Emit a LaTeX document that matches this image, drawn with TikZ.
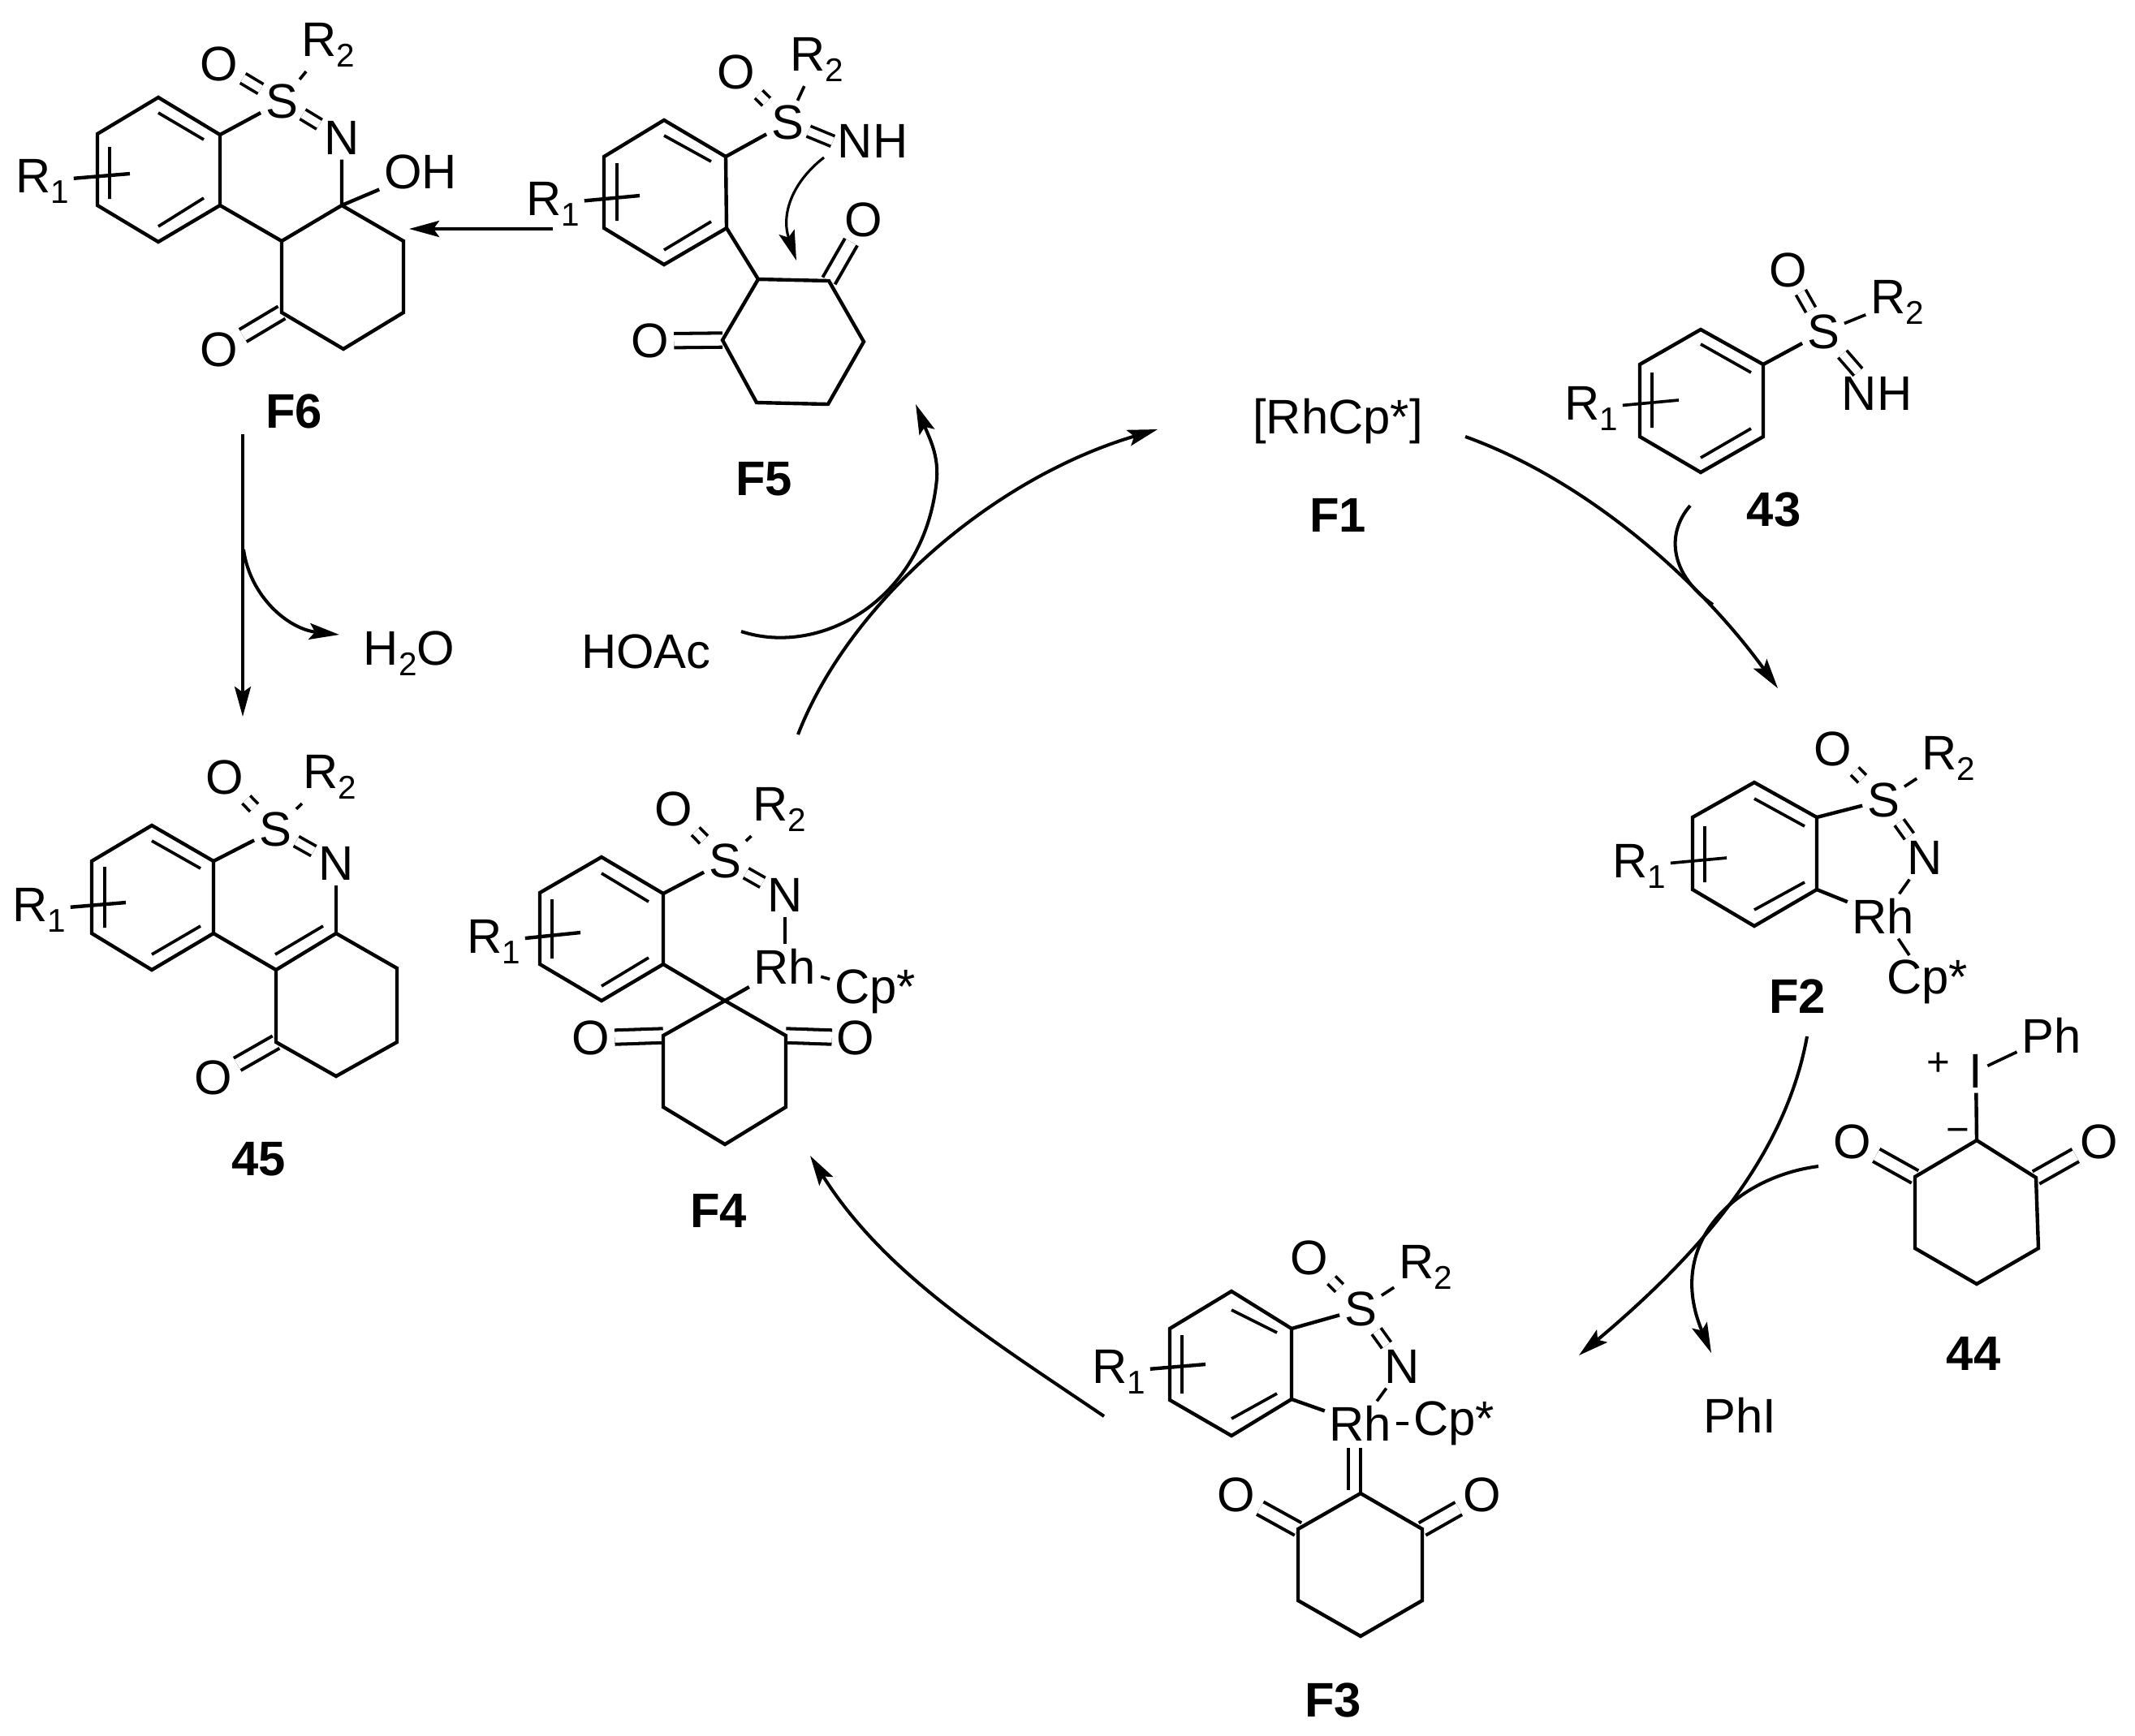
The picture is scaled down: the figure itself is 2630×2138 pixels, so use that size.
\documentclass[tikz,border=0pt]{standalone}
\usepackage{fontspec}
\setmainfont{Liberation Sans}
\usetikzlibrary{arrows.meta}
\newcommand{\lowidx}[1]{\raisebox{-3.7pt}{\fontsize{11.5}{13}\selectfont #1}}
\tikzset{
  atom/.style={font=\fontsize{17}{20}\selectfont, inner sep=1.5pt},
  tag/.style={font=\fontsize{17}{20}\selectfont\bfseries, inner sep=1pt},
  charge/.style={font=\fontsize{14}{16}\selectfont, inner sep=0pt},
  bond/.style={line width=1.25pt, line join=miter},
  thinbond/.style={line width=1.05pt},
  dbl/.style={line width=1.05pt, double, double distance=2.8pt},
  dblco/.style={line width=1.15pt, double, double distance=3.8pt},
  rxn/.style={line width=1.15pt, -{Stealth[length=0.37cm, width=0.2cm, inset=0.07cm]}}
}
\begin{document}
\begin{tikzpicture}[x=0.01cm, y=-0.01cm]
\useasboundingbox (0,0) rectangle (2630,2138);

\node[atom] (f6S) at (347,125) {S};
\node[atom] (f6O) at (270,79) {O};
\node[atom] (f6R) at (404,55) {R\lowidx{2}};
\node[atom] (f6N) at (421,170) {N};
\node[atom] (f6OH) at (518,212) {OH};
\node[atom] (f6Rone) at (52,223) {R\lowidx{1}};
\node[atom] (f6Ok) at (270,431) {O};
\node[tag] (f6) at (362,507) {F6};
\draw[dbl] (f6S) -- (f6O);
\draw[dbl] (f6S) -- (f6N);
\draw[thinbond] (f6S) -- (f6R);
\draw[dblco] (347,385) -- (f6Ok);
\draw[bond] (195,120) -- (271,166) -- (271,253) -- (195,298) -- (120,253) -- (120,165) -- cycle;
\draw[bond] (271,166) -- (f6S);
\draw[bond] (271,253) -- (347,297) -- (421,253) -- (497,297) -- (497,385) -- (423,430) -- (347,385) -- (347,297);
\draw[bond] (f6N) -- (421,253) -- (f6OH);
\draw[bond] (f6Rone) -- (160,214);
\draw[thinbond] (135,181) -- (135,245) (195,139) -- (251,172) (195,279) -- (251,244);

\node[atom] (f5S) at (970,151) {S};
\node[atom] (f5O) at (907,89) {O};
\node[atom] (f5R) at (1006,73) {R\lowidx{2}};
\node[atom] (f5NH) at (1075,174) {NH};
\node[atom] (f5Rone) at (681,251) {R\lowidx{1}};
\node[atom] (f5Ot) at (1064,271) {O};
\node[atom] (f5Ol) at (801,420) {O};
\node[tag] (f5) at (941,590) {F5};
\draw[dbl] (f5S) -- (f5O);
\draw[dbl] (f5S) -- (f5NH.west);
\draw[thinbond] (f5S) -- (f5R);
\draw[dblco] (1021,346) -- (f5Ot);
\draw[dblco] (890,419) -- (f5Ol);
\draw[bond] (818,148) -- (894,193) -- (895,281) -- (818,326) -- (744,281) -- (744,193) -- cycle;
\draw[bond] (894,193) -- (f5S);
\draw[bond] (895,281) -- (934,344);
\draw[bond] (934,344) -- (1021,346) -- (1064,421) -- (1020,498) -- (932,496) -- (890,419) -- cycle;
\draw[bond] (f5Rone) -- (788,241);
\draw[thinbond] (760,201) -- (760,272) (818,167) -- (876,199) (818,308) -- (876,273);

\node[atom] (f1) at (1648,519) {[RhCp*]};
\node[tag] (f1tag) at (1648,635) {F1};

\node[atom] (n43S) at (2246,409) {S};
\node[atom] (n43O) at (2203,333) {O};
\node[atom] (n43R) at (2337,372) {R\lowidx{2}};
\node[atom] (n43NH) at (2312,485) {NH};
\node[atom] (n43Rone) at (1960,503) {R\lowidx{1}};
\node[tag] (n43) at (2185,628) {43};
\draw[dbl] (n43S) -- (n43O);
\draw[dbl] (n43S) -- (n43NH);
\draw[thinbond] (n43S) -- (n43R);
\draw[bond] (2095,406) -- (2172,449) -- (2172,538) -- (2095,582) -- (2020,538) -- (2020,449) -- cycle;
\draw[bond] (2172,449) -- (n43S);
\draw[thinbond] (n43Rone) -- (2068,493);
\draw[thinbond] (2035,459) -- (2035,527) (2095,424) -- (2157,459) (2095,564) -- (2157,528);

\node[atom] (f2S) at (2320,986) {S};
\node[atom] (f2O) at (2258,923) {O};
\node[atom] (f2R) at (2400,934) {R\lowidx{2}};
\node[atom] (f2N) at (2371,1057) {N};
\node[atom] (f2Rh) at (2320,1129) {Rh};
\node[atom] (f2Cp) at (2374,1210) {Cp*};
\node[atom] (f2Rone) at (2019,1067) {R\lowidx{1}};
\node[tag] (f2) at (2214,1228) {F2};
\draw[dbl] (f2S) -- (f2O);
\draw[dbl] (f2S) -- (f2N);
\draw[thinbond] (f2S) -- (f2R);
\draw[bond] (2161,964) -- (2238,1007) -- (2238,1096) -- (2161,1141) -- (2085,1096) -- (2085,1007) -- cycle;
\draw[bond] (2238,1007) -- (f2S);
\draw[bond] (2238,1096) -- (f2Rh);
\draw[thinbond] (f2N) -- (f2Rh);
\draw[thinbond] (f2Rh) -- (f2Cp);
\draw[thinbond] (f2Rone) -- (2127,1057);
\draw[thinbond] (2100,1018) -- (2100,1087) (2161,984) -- (2223,1018) (2161,1121) -- (2223,1087);

\node[atom] (n44I) at (2434,1320) {I};
\node[atom] (n44Ph) at (2527,1276) {Ph};
\node[charge] (n44plus) at (2388,1311) {+};
\node[charge] (n44minus) at (2412,1399) {−};
\node[atom] (n44Ol) at (2282,1407) {O};
\node[atom] (n44Or) at (2586,1407) {O};
\node[tag] (n44) at (2431,1668) {44};
\node[atom] (phi) at (2143,1744) {PhI};
\draw[dblco] (2359,1450) -- (n44Ol);
\draw[dblco] (2508,1451) -- (n44Or);
\draw[bond] (2435,1405) -- (2508,1451) -- (2511,1538) -- (2435,1582) -- (2359,1538) -- (2359,1450) -- cycle;
\draw[bond] (n44I) -- (2435,1405);
\draw[thinbond] (n44I) -- (n44Ph);

\node[atom] (f3S) at (1676,1613) {S};
\node[atom] (f3O) at (1613,1550) {O};
\node[atom] (f3R) at (1756,1561) {R\lowidx{2}};
\node[atom] (f3N) at (1727,1684) {N};
\node[atom] (f3Rh) at (1676,1754) {Rh};
\node[atom] (f3Cp) at (1791,1754) {Cp*};
\node[atom] (f3Rone) at (1378,1690) {R\lowidx{1}};
\node[atom] (f3Ol) at (1523,1842) {O};
\node[atom] (f3Or) at (1826,1842) {O};
\node[tag] (f3) at (1642,2095) {F3};
\draw[dbl] (f3S) -- (f3O);
\draw[dbl] (f3S) -- (f3N);
\draw[thinbond] (f3S) -- (f3R);
\draw[dblco] (1599,1884) -- (f3Ol);
\draw[dblco] (1752,1884) -- (f3Or);
\draw[bond] (1517,1591) -- (1591,1637) -- (1591,1724) -- (1517,1769) -- (1441,1725) -- (1441,1637) -- cycle;
\draw[bond] (1591,1637) -- (f3S);
\draw[bond] (1591,1724) -- (f3Rh);
\draw[thinbond] (f3N) -- (f3Rh);
\draw[thinbond] (f3Rh) -- (f3Cp);
\draw[bond] (1676,1840) -- (1752,1884) -- (1752,1972) -- (1676,2016) -- (1599,1972) -- (1599,1884) -- cycle;
\draw[thinbond] (1676,1784) -- (1676,1840) (1661,1784) -- (1661,1836);
\draw[bond] (f3Rone) -- (1485,1681);
\draw[thinbond] (1456,1645) -- (1456,1717) (1517,1614) -- (1573,1642) (1517,1748) -- (1573,1717);

\node[atom] (f4S) at (893,1061) {S};
\node[atom] (f4O) at (830,997) {O};
\node[atom] (f4R) at (960,997) {R\lowidx{2}};
\node[atom] (f4N) at (967,1103) {N};
\node[atom] (f4Rh) at (967,1191) {Rh};
\node[atom] (f4Cp) at (1078,1222) {Cp*};
\node[atom] (f4Rone) at (608,1160) {R\lowidx{1}};
\node[atom] (f4Ol) at (728,1279) {O};
\node[atom] (f4Or) at (1054,1279) {O};
\node[tag] (f4) at (885,1492) {F4};
\draw[dbl] (f4S) -- (f4O);
\draw[dbl] (f4S) -- (f4N);
\draw[thinbond] (f4S) -- (f4R);
\draw[dblco] (817,1276) -- (f4Ol);
\draw[dblco] (968,1276) -- (f4Or);
\draw[bond] (741,1056) -- (817,1101) -- (817,1188) -- (741,1233) -- (665,1188) -- (665,1100) -- cycle;
\draw[bond] (817,1101) -- (f4S);
\draw[bond] (817,1188) -- (893,1233) -- (968,1276) -- (968,1364) -- (893,1410) -- (817,1364) -- (817,1276) -- (893,1233) -- (f4Rh);
\draw[thinbond] (f4N) -- (f4Rh);
\draw[thinbond] (f4Rh) -- (f4Cp);
\draw[bond] (f4Rone) -- (715,1149);
\draw[thinbond] (680,1108) -- (680,1181) (741,1076) -- (799,1111) (741,1215) -- (799,1180);

\node[atom] (n45S) at (339,1022) {S};
\node[atom] (n45O) at (277,958) {O};
\node[atom] (n45R) at (406,957) {R\lowidx{2}};
\node[atom] (n45N) at (414,1064) {N};
\node[atom] (n45Rone) at (48,1121) {R\lowidx{1}};
\node[atom] (n45Ok) at (263,1328) {O};
\node[tag] (n45) at (319,1428) {45};
\draw[dbl] (n45S) -- (n45O);
\draw[dbl] (n45S) -- (n45N);
\draw[thinbond] (n45S) -- (n45R);
\draw[dblco] (340,1284) -- (n45Ok);
\draw[bond] (187,1017) -- (263,1061) -- (263,1150) -- (187,1195) -- (113,1150) -- (113,1061) -- cycle;
\draw[bond] (263,1061) -- (n45S);
\draw[bond] (263,1150) -- (340,1195) -- (414,1150) -- (489,1193) -- (489,1284) -- (414,1326) -- (340,1284) -- (340,1195);
\draw[bond] (n45N) -- (414,1150);
\draw[bond] (n45Rone) -- (155,1112);
\draw[thinbond] (129,1068) -- (129,1143) (187,1036) -- (247,1070) (187,1176) -- (247,1141) (339,1176) -- (398,1141);

\node[atom] (water) at (504,805) {H\lowidx{2}O};
\node[atom] (hoac) at (796,803) {HOAc};

\coordinate (f5out) at (681,282);
\coordinate (f6in) at (504,282);
\coordinate (f5nuc) at (1015,194);
\coordinate (f5ket) at (981,321);
\coordinate (f6out) at (299,535);
\coordinate (n45in) at (299,883);
\coordinate (wstart) at (300,677);
\coordinate (wend) at (418,782);
\coordinate (f4out) at (983,905);
\coordinate (f1in) at (1426,529);
\coordinate (hstart) at (913,778);
\coordinate (hmid) at (1154,590);
\coordinate (f5in) at (1128,498);
\coordinate (f1out) at (1805,538);
\coordinate (f2in) at (2190,848);
\coordinate (astart) at (2082,623);
\coordinate (aend) at (2110,745);
\coordinate (f2out) at (2226,1277);
\coordinate (f3in) at (1945,1670);
\coordinate (bstart) at (2240,1437);
\coordinate (phiin) at (2108,1667);
\coordinate (f3out) at (1360,1745);
\coordinate (f4in) at (998,1424);

\draw[rxn] (f5out) -- (f6in);
\draw[rxn, line width=0.9pt] (f5nuc) .. controls (975,225) and (962,265) .. (f5ket);
\draw[rxn] (f6out) -- (n45in);
\draw[rxn] (wstart) .. controls (308,735) and (355,775) .. (wend);
\draw[rxn] (f4out) .. controls (1045,745) and (1220,590) .. (f1in);
\draw[rxn] (hstart) .. controls (1010,810) and (1140,740) .. (hmid) .. controls (1156,560) and (1145,540) .. (f5in);
\draw[rxn] (f1out) .. controls (1950,590) and (2090,710) .. (f2in);
\draw[line width=1.15pt] (astart) .. controls (2050,660) and (2060,710) .. (aend);
\draw[rxn] (f2out) .. controls (2200,1420) and (2100,1540) .. (f3in);
\draw[rxn] (bstart) .. controls (2140,1450) and (2050,1530) .. (phiin);
\draw[rxn] (f3out) .. controls (1220,1650) and (1090,1570) .. (f4in);
\end{tikzpicture}
\end{document}
